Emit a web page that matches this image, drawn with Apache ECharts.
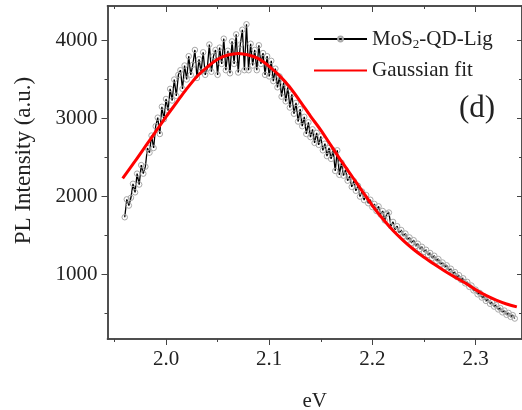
<!DOCTYPE html>
<html><head><meta charset="utf-8">
<script src="https://cdn.jsdelivr.net/npm/echarts@6/dist/echarts.min.js"></script>
<style>html,body{margin:0;padding:0;background:#fff}#c{width:522px;height:410px}</style>
</head><body><div id="c"></div>
<script>
const eV = [
1.960,1.962,1.964,1.966,1.968,1.970,1.972,1.974,1.976,1.978,
1.980,1.982,1.984,1.986,1.988,1.990,1.992,1.994,1.996,1.998,
2.000,2.002,2.004,2.006,2.008,2.010,2.012,2.014,2.016,2.018,
2.020,2.022,2.024,2.026,2.028,2.030,2.032,2.034,2.036,2.038,
2.040,2.042,2.044,2.046,2.048,2.050,2.052,2.054,2.056,2.058,
2.060,2.062,2.064,2.066,2.068,2.070,2.072,2.074,2.076,2.078,
2.080,2.082,2.084,2.086,2.088,2.090,2.092,2.094,2.096,2.098,
2.100,2.102,2.104,2.106,2.108,2.110,2.112,2.114,2.116,2.118,
2.120,2.122,2.124,2.126,2.128,2.130,2.132,2.134,2.136,2.138,
2.140,2.142,2.144,2.146,2.148,2.150,2.152,2.154,2.156,2.158,
2.160,2.162,2.164,2.166,2.168,2.170,2.172,2.174,2.176,2.178,
2.180,2.182,2.184,2.186,2.188,2.190,2.192,2.194,2.196,2.198,
2.200,2.202,2.204,2.206,2.208,2.210,2.212,2.214,2.216,2.218,
2.220,2.222,2.224,2.226,2.228,2.230,2.232,2.234,2.236,2.238,
2.240,2.242,2.244,2.246,2.248,2.250,2.252,2.254,2.256,2.258,
2.260,2.262,2.264,2.266,2.268,2.270,2.272,2.274,2.276,2.278,
2.280,2.282,2.284,2.286,2.288,2.290,2.292,2.294,2.296,2.298,
2.300,2.302,2.304,2.306,2.308,2.310,2.312,2.314,2.316,2.318,
2.320,2.322,2.324,2.326,2.328,2.330,2.332,2.334,2.336,2.338
];
const intensity = [
1730,1960,1880,1980,2160,2050,2290,2150,2400,2290,
2380,2620,2560,2780,2620,2900,3010,2800,3150,2990,
3250,3100,3380,3230,3500,3290,3560,3620,3380,3680,
3500,3800,3560,3690,3880,3520,3760,3600,3850,3560,
3640,3950,3600,3800,3880,3560,3910,3700,4025,3620,
3870,3580,3990,3700,4080,3590,3950,4140,3620,4210,
3620,3960,3680,3880,3620,3940,3700,3840,3560,3800,
3540,3740,3480,3640,3400,3540,3280,3460,3220,3400,
3140,3310,3060,3200,2960,3120,2900,3020,2800,2950,
2760,2860,2685,2815,2660,2770,2590,2675,2515,2620,
2480,2590,2325,2590,2275,2430,2265,2340,2200,2255,
2120,2195,2070,2135,1995,2060,1950,2015,1910,1955,
1860,1900,1810,1870,1765,1810,1690,1775,1790,1615,
1670,1570,1615,1530,1565,1490,1520,1440,1470,1400,
1435,1360,1390,1320,1350,1285,1312,1245,1270,1205,
1235,1170,1192,1125,1148,1090,1112,1045,1068,1008,
1025,962,985,925,945,880,898,835,852,790,
800,740,758,698,712,655,676,618,638,582,
600,545,562,508,530,476,500,450,472,428
];
const fitEV = [1.958,1.97,1.98,1.99,2.00,2.01,2.02,2.03,2.04,2.05,2.06,2.07,2.08,2.09,2.10,2.11,2.12,2.13,2.14,2.15,2.16,2.17,2.18,2.19,2.20,2.21,2.22,2.23,2.24,2.25,2.26,2.27,2.28,2.29,2.30,2.31,2.32,2.33,2.34];
const fitIntensity = [2230,2450,2640,2830,3020,3200,3380,3540,3660,3760,3815,3835,3815,3765,3670,3550,3400,3220,3030,2850,2650,2450,2260,2070,1880,1710,1560,1430,1315,1215,1125,1040,960,885,800,725,665,615,578];
const xMajorTicks = [2.0, 2.1, 2.2, 2.3];
const xMinorTicks = [1.95, 2.05, 2.15, 2.25];
const yMajorTicks = [1000, 2000, 3000, 4000];
const yMinorTicks = [500, 1500, 2500, 3500];
const seriesNames = ['MoS2-QD-Lig', 'Gaussian fit'];
const xName = 'eV';
const yName = 'PL Intensity (a.u.)';
const panelLabel = '(d)';

const X_MIN = 1.9433, X_MAX = 2.345, Y_MIN = 165, Y_MAX = 4445;
const FONT = '"Liberation Serif", "Times New Roman", serif';
const AX = '#444';
const TXT = '#222';

function xAx(pos, ticks, len, labels, inside, extra) {
  return Object.assign({
    type: 'value', position: pos, min: X_MIN, max: X_MAX,
    axisLine: {show: true, onZero: false, lineStyle: {color: AX, width: 1.5}},
    axisTick: {show: true, inside: inside, length: len, customValues: ticks, lineStyle: {color: AX, width: 1}},
    axisLabel: {show: labels, customValues: ticks, margin: 10, fontFamily: FONT, fontSize: 21, color: TXT, formatter: v => Number(v).toFixed(1)},
    splitLine: {show: false}
  }, extra || {});
}
function yAx(pos, ticks, len, labels, inside, extra) {
  return Object.assign({
    type: 'value', position: pos, min: Y_MIN, max: Y_MAX,
    axisLine: {show: true, onZero: false, lineStyle: {color: AX, width: 1.5}},
    axisTick: {show: true, inside: inside, length: len, customValues: ticks, lineStyle: {color: AX, width: 1}},
    axisLabel: {show: labels, customValues: ticks, margin: 10, fontFamily: FONT, fontSize: 21, color: TXT, formatter: v => String(Math.round(v))},
    splitLine: {show: false}
  }, extra || {});
}

const chart = echarts.init(document.getElementById('c'), null, {renderer: 'canvas'});
chart.setOption({
  animation: false,
  backgroundColor: '#fff',
  grid: {left: 107.5, right: 0, top: 6, bottom: 71, containLabel: false, outerBoundsMode: 'none'},
  xAxis: [
    xAx('bottom', xMajorTicks, 6, true, false, {name: xName, nameLocation: 'middle', nameGap: 52, nameTextStyle: {fontFamily: FONT, fontSize: 21, color: TXT}}),
    xAx('bottom', xMinorTicks, 3, false, false),
    xAx('top', xMajorTicks, 6, false, true),
    xAx('top', xMinorTicks, 3, false, true)
  ],
  yAxis: [
    yAx('left', yMajorTicks, 6, true, false, {name: yName, nameLocation: 'middle', nameGap: 72, nameRotate: 90, nameTextStyle: {fontFamily: FONT, fontSize: 23, color: TXT, padding: [0, 0, 0, 24]}}),
    yAx('left', yMinorTicks, 3, false, false),
    yAx('right', yMajorTicks, 5, false, true),
    yAx('right', yMinorTicks, 3, false, true)
  ],
  legend: {
    orient: 'vertical', left: 308, top: 23,
    itemWidth: 53, itemHeight: 6, itemGap: 9,
    data: [{name: seriesNames[0]}, {name: seriesNames[1], itemStyle: {opacity: 0}}],
    formatter: function (n) { return n === seriesNames[0] ? '{a|MoS}{s|2}{a|-QD-Lig}' : '{a|' + n + '}'; },
    textStyle: {
      fontFamily: FONT, fontSize: 21, color: TXT,
      rich: {
        a: {fontFamily: FONT, fontSize: 21, color: TXT, lineHeight: 24},
        s: {fontFamily: FONT, fontSize: 13, color: TXT, lineHeight: 24, verticalAlign: 'bottom', padding: [10, 0, 0, 0]}
      }
    }
  },
  graphic: [{type: 'text', left: 459, top: 93, style: {text: panelLabel, fontFamily: FONT, fontSize: 31, fill: TXT}}],
  series: [
    {
      name: seriesNames[0], type: 'line', xAxisIndex: 0, yAxisIndex: 0,
      data: eV.map((x, i) => [x, intensity[i]]),
      symbol: 'circle', symbolSize: 5.5, showSymbol: true, showAllSymbol: true,
      lineStyle: {color: '#000', width: 1.3},
      itemStyle: {color: 'rgba(255,255,255,0)', borderColor: '#a8a8a8', borderWidth: 1},
      emphasis: {disabled: true}, z: 2
    },
    {
      name: seriesNames[1], type: 'line', xAxisIndex: 0, yAxisIndex: 0,
      data: fitEV.map((x, i) => [x, fitIntensity[i]]),
      smooth: 0.3, symbol: 'none',
      lineStyle: {color: '#ff0000', width: 3},
      itemStyle: {color: '#ff0000'},
      emphasis: {disabled: true}, z: 3
    }
  ]
});
</script>
</body></html>
